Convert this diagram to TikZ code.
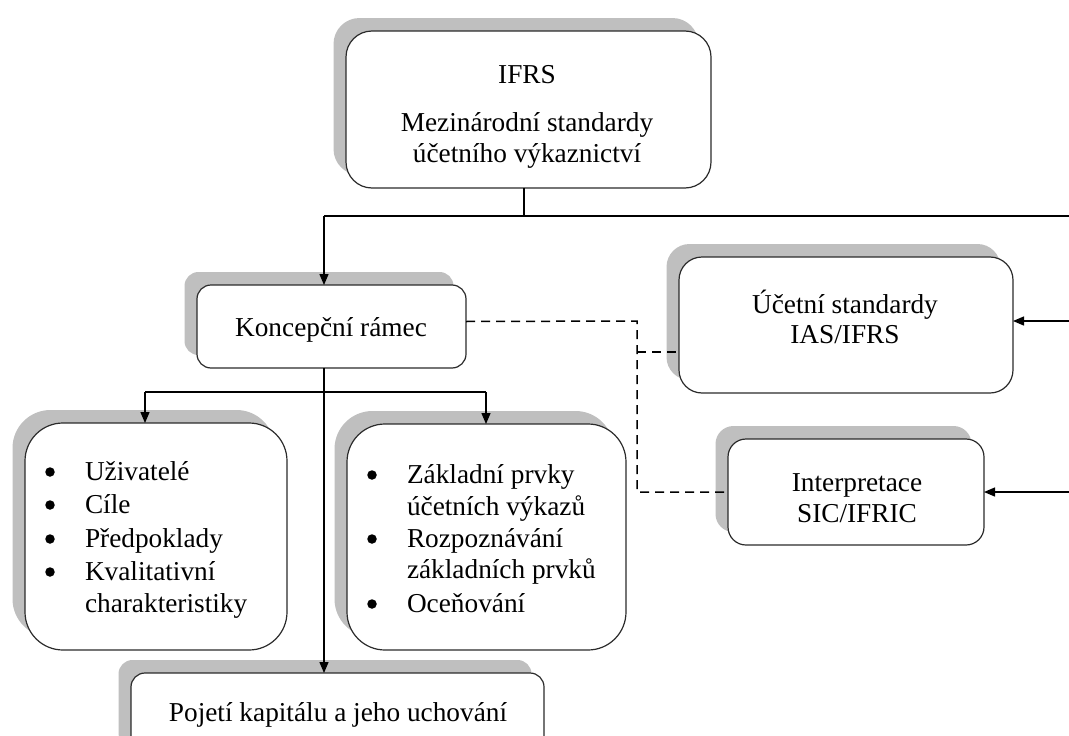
\documentclass[tikz,border=0pt]{standalone}
\usepackage{fontspec}
\setmainfont{Liberation Serif}
\usetikzlibrary{arrows.meta,shadows}
\definecolor{shadowgray}{HTML}{BFBFBF}
\definecolor{edgegray}{HTML}{2B2B2B}
\begin{document}
\begin{tikzpicture}[x=1pt,y=-1pt,
  box/.style={draw=edgegray,line width=1.2pt,fill=white,
    drop shadow={shadow xshift=-12.5pt,shadow yshift=13pt,fill=shadowgray,opacity=1},
    inner sep=0pt,outer sep=0pt},
  txt/.style={inner sep=0pt,outer sep=0pt,text height=19pt,text depth=6pt,
    font=\fontsize{27.3}{33}\selectfont},
  dot/.style={circle,fill=black,inner sep=0pt,minimum size=9.5pt},
  conn/.style={line width=1.3pt,black},
  arr/.style={conn,-{Triangle[length=11pt,width=9pt]}},
  dashlink/.style={line width=1.5pt,black,dash pattern=on 9pt off 6pt}]
\useasboundingbox (0,0) rectangle (1069,736);

% boxes
\node[box,rounded corners=26pt,minimum width=365pt,minimum height=157pt] (ifrs) at (528.5,109.5) {};
\node[box,rounded corners=14pt,minimum width=269pt,minimum height=83pt] (konc) at (331.5,326.5) {};
\node[box,rounded corners=23pt,minimum width=334pt,minimum height=136pt] (ucet) at (846,325) {};
\node[box,rounded corners=18pt,minimum width=256pt,minimum height=106pt] (interp) at (856,492) {};
\node[box,rounded corners=38pt,minimum width=262pt,minimum height=227pt] (left) at (156,536.5) {};
\node[box,rounded corners=38pt,minimum width=279pt,minimum height=226pt] (mid) at (486.5,537) {};
\node[box,rounded corners=14pt,minimum width=413pt,minimum height=87pt] (pojeti) at (337.5,716.5) {};

% texts
\node[txt,anchor=base] (t1) at (527,83) {IFRS};
\node[txt,anchor=base] (t2) at (527,131) {Mezinárodní standardy};
\node[txt,anchor=base] (t3) at (527,162) {účetního výkaznictví};
\node[txt,anchor=base] (t4) at (331,336) {Koncepční rámec};
\node[txt,anchor=base] (t5) at (845,313) {Účetní standardy};
\node[txt,anchor=base] (t6) at (845,343) {IAS/IFRS};
\node[txt,anchor=base] (t7) at (857,491) {Interpretace};
\node[txt,anchor=base] (t8) at (857,522) {SIC/IFRIC};
\node[txt,anchor=base] (t9) at (338,721) {Pojetí kapitálu a jeho uchování};

% bullet list, left box
\node[dot] (a1d) at (50,472) {};
\node[dot] (a2d) at (50,505) {};
\node[dot] (a3d) at (50,539) {};
\node[dot] (a4d) at (50,572) {};
\node[txt,anchor=base west] (a1) at (85,480) {Uživatelé};
\node[txt,anchor=base west] (a2) at (85,513) {Cíle};
\node[txt,anchor=base west] (a3) at (85,547) {Předpoklady};
\node[txt,anchor=base west] (a4) at (85,580) {Kvalitativní};
\node[txt,anchor=base west] (a5) at (85,612) {charakteristiky};

% bullet list, middle box
\node[dot] (b1d) at (372,475) {};
\node[dot] (b3d) at (372,539) {};
\node[dot] (b5d) at (372,604) {};
\node[txt,anchor=base west] (b1) at (407,483) {Základní prvky};
\node[txt,anchor=base west] (b2) at (407,515) {účetních výkazů};
\node[txt,anchor=base west] (b3) at (407,547) {Rozpoznávání};
\node[txt,anchor=base west] (b4) at (407,578) {základních prvků};
\node[txt,anchor=base west] (b5) at (407,612) {Oceňování};

% junction points
\coordinate (busL) at (324,216);
\coordinate (busR) at (1072,216);
\coordinate (bl) at (145,392);
\coordinate (bm) at (486,392);
\coordinate (dk) at (637,321);
\coordinate (ua) at ([yshift=4pt]ucet.east);
\coordinate (ka) at ([yshift=5pt]konc.east);
\coordinate (uw) at ([yshift=-27pt]ucet.west);
\coordinate (top) at ([xshift=-4.5pt]ifrs.south);

% solid connectors
\draw[conn] (top) -- (top |- busL);
\draw[conn] (busL) -- (busR);
\draw[arr] (busL) -- (busL |- konc.north);
\draw[conn] (busR) -- (busR |- interp.east);
\draw[arr] (ua -| busR) -- (ua);
\draw[arr] (busR |- interp.east) -- (interp.east);
\draw[arr] (konc.south -| busL) -- (pojeti.north -| busL);
\draw[conn] (bl) -- (bm);
\draw[arr] (bl) -- (bl |- left.north);
\draw[arr] (bm) -- (bm |- mid.north);

% dashed links
\draw[dashlink] (ka) -- (dk) -- (dk |- interp.west) -- (interp.west);
\draw[dashlink] (dk |- uw) -- (uw);
\end{tikzpicture}
\end{document}
